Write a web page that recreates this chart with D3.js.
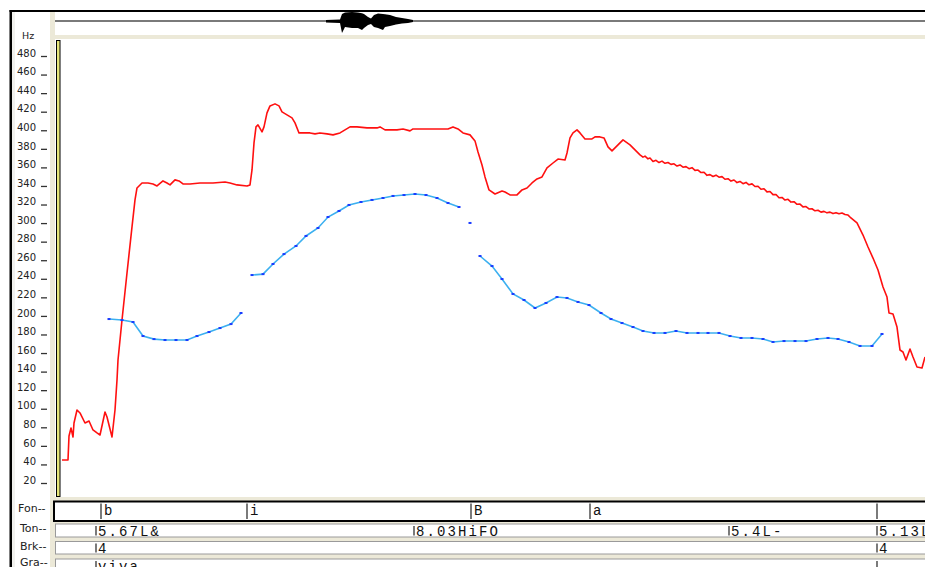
<!DOCTYPE html>
<html>
<head>
<meta charset="utf-8">
<script src="https://cdn.jsdelivr.net/npm/d3@7"></script>
<style>
  body { margin: 0; background: #fff; }
  svg { display: block; }
</style>
</head>
<body>
<script>
// time in seconds, pitch in Hz
const redPitch = [
  [0.014, 41.6], [0.026, 41.6], [0.028, 67.4], [0.032, 76.0], [0.036, 66.3], [0.038, 81.4],
  [0.044, 95.4], [0.050, 92.2], [0.060, 81.4], [0.068, 83.6], [0.076, 73.9], [0.084, 70.7],
  [0.090, 68.5], [0.100, 93.3], [0.104, 87.9], [0.114, 66.3], [0.120, 95.4], [0.124, 127.7],
  [0.126, 149.3], [0.134, 192.4], [0.144, 243.0], [0.154, 292.6], [0.160, 321.7], [0.164, 334.6],
  [0.174, 340.0], [0.186, 340.0], [0.196, 338.9], [0.204, 336.8], [0.216, 342.2], [0.224, 340.0],
  [0.230, 337.9], [0.240, 343.3], [0.248, 342.2], [0.256, 338.9], [0.270, 338.9], [0.290, 340.0],
  [0.316, 340.0], [0.340, 341.1], [0.350, 340.0], [0.364, 337.9], [0.384, 336.8], [0.390, 337.9],
  [0.394, 354.0], [0.398, 383.1], [0.402, 400.4], [0.406, 402.5], [0.414, 395.0], [0.418, 400.4],
  [0.424, 415.5], [0.430, 423.0], [0.440, 425.2], [0.448, 423.0], [0.454, 416.6], [0.464, 413.4],
  [0.474, 410.1], [0.480, 404.7], [0.488, 393.9], [0.500, 393.9], [0.510, 393.9], [0.520, 392.9],
  [0.530, 393.9], [0.544, 392.9], [0.556, 391.8], [0.570, 393.9], [0.580, 397.2], [0.590, 400.4],
  [0.604, 400.4], [0.624, 399.3], [0.644, 399.3], [0.650, 400.4], [0.660, 397.2], [0.684, 397.2],
  [0.696, 398.2], [0.710, 396.1], [0.716, 398.2], [0.744, 398.2], [0.770, 398.2], [0.786, 398.2],
  [0.796, 400.4], [0.806, 398.2], [0.816, 393.9], [0.830, 391.8], [0.840, 385.3], [0.846, 373.4],
  [0.854, 359.4], [0.860, 346.5], [0.868, 332.5], [0.880, 328.1], [0.894, 331.4], [0.900, 330.3],
  [0.910, 327.1], [0.924, 327.1], [0.934, 332.5], [0.944, 334.6], [0.954, 340.0], [0.964, 344.3],
  [0.974, 346.5], [0.984, 356.2], [0.996, 361.5], [1.006, 365.8], [1.020, 364.8], [1.024, 372.3],
  [1.030, 388.5], [1.036, 393.9], [1.044, 397.2], [1.050, 393.9], [1.060, 387.4], [1.074, 387.4],
  [1.080, 389.6], [1.090, 389.6], [1.098, 388.5], [1.106, 378.8], [1.114, 374.5], [1.122, 378.8],
  [1.136, 386.4], [1.150, 381.0], [1.160, 375.6], [1.170, 370.2], [1.176, 367.8], [1.180, 368.9],
  [1.186, 366.0], [1.190, 366.8], [1.196, 363.2], [1.202, 364.4], [1.208, 362.0], [1.214, 363.5],
  [1.220, 361.2], [1.226, 362.0], [1.232, 360.0], [1.238, 360.6], [1.244, 358.2], [1.250, 359.4],
  [1.256, 357.0], [1.262, 357.6], [1.268, 355.4], [1.274, 356.5], [1.280, 353.6], [1.286, 353.9],
  [1.292, 351.2], [1.298, 351.5], [1.304, 348.2], [1.310, 349.0], [1.316, 347.0], [1.322, 348.4],
  [1.328, 346.2], [1.334, 346.8], [1.340, 344.0], [1.346, 344.6], [1.352, 342.0], [1.358, 343.2],
  [1.364, 340.4], [1.370, 341.6], [1.376, 339.2], [1.382, 340.6], [1.388, 338.0], [1.394, 339.0],
  [1.400, 336.2], [1.406, 336.4], [1.412, 333.2], [1.418, 333.8], [1.424, 330.4], [1.430, 330.8],
  [1.436, 327.4], [1.442, 327.6], [1.448, 324.0], [1.454, 324.4], [1.460, 321.6], [1.466, 322.4],
  [1.472, 319.4], [1.478, 319.8], [1.484, 317.0], [1.490, 317.2], [1.496, 314.2], [1.502, 314.6],
  [1.508, 312.0], [1.514, 312.2], [1.520, 310.0], [1.526, 310.6], [1.532, 308.6], [1.538, 309.4],
  [1.544, 307.8], [1.550, 308.6], [1.556, 307.0], [1.562, 308.0], [1.568, 306.8], [1.574, 307.6],
  [1.580, 306.0], [1.586, 305.4], [1.590, 303.3], [1.604, 296.9], [1.616, 283.9], [1.626, 271.0],
  [1.636, 259.1], [1.646, 246.2], [1.656, 227.9], [1.664, 217.1], [1.668, 199.9], [1.676, 198.8],
  [1.684, 184.8], [1.690, 160.0], [1.696, 157.9], [1.702, 149.3], [1.710, 161.1], [1.716, 152.5],
  [1.724, 141.8], [1.734, 140.7], [1.740, 152.5]
]

const blueSeg1 = [
  [0.108, 193.4], [0.134, 192.3], [0.156, 190.2], [0.176, 175.1], [0.198, 171.8], [0.220, 170.8],
  [0.242, 170.8], [0.264, 170.8], [0.284, 175.1], [0.308, 179.4], [0.330, 183.7], [0.352, 188.0],
  [0.372, 199.9]
]
const blueSeg2 = [
  [0.394, 240.8], [0.416, 241.8], [0.436, 252.7], [0.458, 263.4], [0.482, 272.1], [0.502, 282.9],
  [0.526, 291.5], [0.546, 303.3], [0.568, 309.8], [0.588, 316.3], [0.612, 319.5], [0.634, 321.7],
  [0.656, 323.8], [0.676, 326.0], [0.698, 327.0], [0.720, 328.1], [0.742, 327.0], [0.764, 323.8],
  [0.786, 318.4], [0.808, 314.1]
]
const blueSeg3 = [[0.830, 296.9]]
const blueSeg4 = [
  [0.850, 261.3], [0.874, 250.5], [0.894, 236.5], [0.916, 220.4], [0.938, 213.9], [0.960, 205.3],
  [0.982, 210.7], [1.004, 217.1], [1.024, 216.1], [1.046, 211.8], [1.068, 208.5], [1.092, 199.9],
  [1.112, 193.4], [1.134, 189.1], [1.156, 184.8], [1.176, 180.5], [1.198, 178.4], [1.220, 178.4],
  [1.242, 180.5], [1.264, 178.4], [1.286, 178.4], [1.306, 178.4], [1.328, 178.4], [1.350, 175.1],
  [1.372, 173.0], [1.394, 173.0], [1.416, 171.9], [1.436, 168.7], [1.458, 169.7], [1.480, 169.7],
  [1.502, 169.7], [1.524, 171.9], [1.546, 173.0], [1.566, 171.9], [1.588, 168.7], [1.610, 164.4],
  [1.634, 164.4], [1.654, 177.3]
]

// waveform envelope: time, upper amplitude, lower amplitude
const waveTime = [0.542, 0.570, 0.574, 0.580, 0.594, 0.606, 0.614, 0.618, 0.626, 0.632,
  0.638, 0.646, 0.656, 0.660, 0.670, 0.682, 0.694, 0.706, 0.716]
const waveUp = [0.11, 0.17, 0.78, 0.94, 1.0, 0.94, 0.85, 0.78, 0.44, 0.28,
  0.67, 0.83, 0.78, 0.74, 0.67, 0.44, 0.33, 0.22, 0.11]
const waveDown = [0.17, 0.22, 1.33, 0.67, 0.78, 0.78, 1.0, 0.78, 0.44, 0.33,
  0.67, 0.78, 1.0, 0.67, 0.56, 0.39, 0.28, 0.22, 0.11]

const hzTicks = [20, 40, 60, 80, 100, 120, 140, 160, 180, 200, 220, 240,
  260, 280, 300, 320, 340, 360, 380, 400, 420, 440, 460, 480]

// label tiers
const fonTimes = [0.092, 0.384, 0.832, 1.070, 1.644]
const fonLabels = ['b', 'i', 'B', 'a', '']
const tonTimes = [0.082, 0.718, 1.348, 1.644]
const tonLabels = ['5.67L&', '8.03HiFO', '5.4L-', '5.13L-']
const brkTimes = [0.082, 1.644]
const brkLabels = ['4', '4']
const graTimes = [0.082, 1.644]
const graLabels = ['viva', '']
const tierNames = ['Fon--', 'Ton--', 'Brk--', 'Gra--']

const WIDTH = 925
const HEIGHT = 567
const BEIGE = '#ece9d8'

const svg = d3.select('body').append('svg')
  .attr('width', WIDTH)
  .attr('height', HEIGHT)

const x = d3.scaleLinear().domain([0, 1.74]).range([55, 925])
const y = d3.scaleLinear().domain([20, 480]).range([480, 53])

svg.append('rect').attr('width', WIDTH).attr('height', HEIGHT).attr('fill', '#fff')

// window frame
svg.append('rect').attr('x', 50).attr('y', 12).attr('width', 5).attr('height', HEIGHT - 12).attr('fill', BEIGE)
svg.append('rect').attr('x', 50).attr('y', 35).attr('width', WIDTH - 50).attr('height', 4).attr('fill', BEIGE)
svg.append('rect').attr('x', 50).attr('y', 497).attr('width', WIDTH - 50).attr('height', 70).attr('fill', BEIGE)
svg.append('rect').attr('x', 12).attr('y', 12).attr('width', 3).attr('height', HEIGHT - 12).attr('fill', '#f1f1ee')
svg.append('rect').attr('x', 9.5).attr('y', 10).attr('width', WIDTH - 9.5).attr('height', 2).attr('fill', '#000')
svg.append('rect').attr('x', 9.5).attr('y', 10).attr('width', 2.5).attr('height', HEIGHT - 10).attr('fill', '#000')

// waveform strip
const WAVE_MID = 21
const WAVE_AMP = 9
svg.append('line')
  .attr('x1', 55).attr('x2', WIDTH)
  .attr('y1', WAVE_MID).attr('y2', WAVE_MID)
  .attr('stroke', '#7a7a7a').attr('stroke-width', 2)

const waveArea = d3.area()
  .x(i => x(waveTime[i]))
  .y0(i => WAVE_MID + waveDown[i] * WAVE_AMP)
  .y1(i => WAVE_MID - waveUp[i] * WAVE_AMP)

svg.append('path')
  .attr('d', waveArea(waveTime.map((d, i) => i)))
  .attr('fill', '#000')

// y axis
const yAxis = svg.append('g')
  .attr('transform', 'translate(47,0)')
  .call(d3.axisLeft(y).tickValues(hzTicks).tickSize(6).tickPadding(5))
yAxis.select('.domain').remove()
yAxis.selectAll('line').attr('y1', 3).attr('y2', 3).attr('stroke', '#333').attr('stroke-width', 1.3)
yAxis.selectAll('text')
  .attr('fill', '#222')
  .style('font-family', 'DejaVu Sans, sans-serif')
  .style('font-size', '10px')

svg.append('text')
  .attr('x', 22).attr('y', 38.5)
  .attr('fill', '#222')
  .style('font-family', 'DejaVu Sans, sans-serif')
  .style('font-size', '9.5px')
  .text('Hz')

// cursor bar
svg.append('rect')
  .attr('x', 56.5).attr('y', 40.5)
  .attr('width', 3.5).attr('height', 456)
  .attr('fill', '#e6e67a').attr('stroke', '#000').attr('stroke-width', 1)

// pitch curves
svg.append('clipPath').attr('id', 'plot')
  .append('rect').attr('x', 60).attr('y', 39).attr('width', WIDTH - 60).attr('height', 458)
const plot = svg.append('g').attr('clip-path', 'url(#plot)')

const line = d3.line().x(d => x(d[0])).y(d => y(d[1]))

plot.append('path')
  .attr('d', line(redPitch))
  .attr('fill', 'none')
  .attr('stroke', '#ff1010')
  .attr('stroke-width', 1.6)
  .attr('stroke-linejoin', 'round')

const blueSegs = [blueSeg1, blueSeg2, blueSeg3, blueSeg4]
plot.selectAll('path.blue')
  .data(blueSegs)
  .enter()
  .append('path')
  .attr('class', 'blue')
  .attr('d', line)
  .attr('fill', 'none')
  .attr('stroke', '#3cb0f0')
  .attr('stroke-width', 1.6)

plot.selectAll('rect.mark')
  .data(blueSegs.flat())
  .enter()
  .append('rect')
  .attr('class', 'mark')
  .attr('x', d => x(d[0]) - 1.5)
  .attr('y', d => y(d[1]) - 1)
  .attr('width', 3)
  .attr('height', 2)
  .attr('fill', '#1a3cff')

// label tiers
const MONO = 'Liberation Mono, Courier New, monospace'
const tiers = [
  { top: 501.5, h: 19.5, times: fonTimes, labels: fonLabels, base: 515, nameY: 512, bold: true },
  { top: 524, h: 13, times: tonTimes, labels: tonLabels, base: 535.5, nameY: 532 },
  { top: 541.5, h: 12.5, times: brkTimes, labels: brkLabels, base: 553, nameY: 550 },
  { top: 559, h: 12, times: graTimes, labels: graLabels, base: 570.5, nameY: 566 }
]

tiers.forEach((tier, k) => {
  const g = svg.append('g')
  g.append('rect')
    .attr('x', tier.bold ? 54 : 55.5).attr('y', tier.top)
    .attr('width', WIDTH).attr('height', tier.h)
    .attr('fill', '#fff')
    .attr('stroke', tier.bold ? '#000' : '#9a9a9a')
    .attr('stroke-width', tier.bold ? 2 : 1)

  g.selectAll('line')
    .data(tier.times)
    .enter()
    .append('line')
    .attr('x1', d => x(d)).attr('x2', d => x(d))
    .attr('y1', tier.top + 2)
    .attr('y2', tier.top + tier.h - (tier.bold ? 2 : 1.5))
    .attr('stroke', '#222')
    .attr('stroke-width', 1.2)

  g.selectAll('text')
    .data(tier.times)
    .enter()
    .append('text')
    .attr('x', d => x(d) + (tier.bold ? 3 : 2))
    .attr('y', tier.base)
    .attr('fill', '#111')
    .style('font-family', MONO)
    .style('font-size', '14px')
    .style('letter-spacing', '2.1px')
    .text((d, i) => tier.labels[i])

  svg.append('text')
    .attr('x', k === 0 ? 18 : 20).attr('y', tier.nameY)
    .attr('fill', '#222')
    .style('font-family', 'DejaVu Sans, sans-serif')
    .style('font-size', '11px')
    .text(tierNames[k])
})
</script>
</body>
</html>
